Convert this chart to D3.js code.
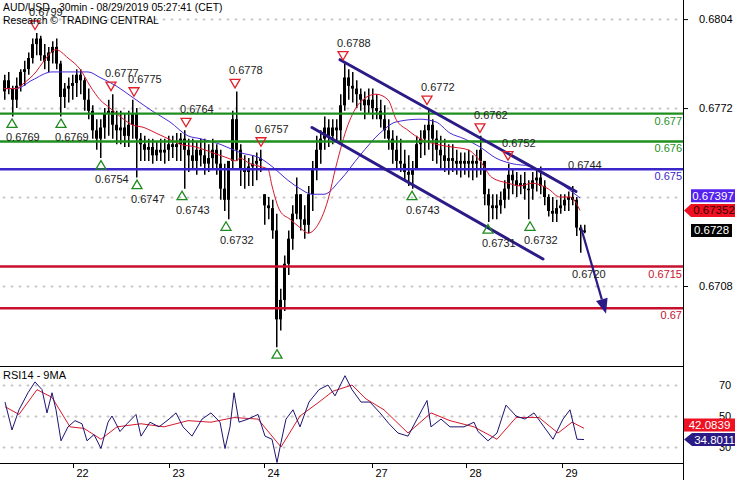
<!DOCTYPE html>
<html><head><meta charset="utf-8">
<script src="https://cdn.jsdelivr.net/npm/d3@7"></script>
<style>body{margin:0;background:#fff}svg{display:block;font-family:"Liberation Sans",Arial,sans-serif}</style>
</head><body><svg id="c" width="735" height="480"></svg>
<script>
// ---------- DATA ----------
const firstOpen = 0.6778;
const highs = [
.6784,.6785,.6780,.6783,.6786,.6789,.6792,.6797,.6799,.6798,
.6795,.6794,.6796,.6797,.6789,.6781,.6783,.6784,.6786,.6786,
.6783,.6779,.6773,.6768,.6768,.6772,.6775,.6777,.6771,.6771,
.6770,.6771,.6775,.6772,.6763,.6762,.6761,.6761,.6760,.6761,
.6761,.6762,.6762,.6763,.6763,.6764,.6761,.6761,.6760,.6761,
.6761,.6759,.6761,.6759,.6757,.6752,.6748,.6771,.6778,.6759,
.6755,.6754,.6755,.6756,.6757,.6741,.6740,.6739,.6734,.6707,
.6719,.6728,.6737,.6747,.6741,.6737,.6744,.6753,.6762,.6764,
.6769,.6768,.6768,.6768,.6777,.6788,.6786,.6785,.6782,.6779,
.6778,.6779,.6779,.6777,.6775,.6773,.6768,.6764,.6762,.6761,
.6757,.6755,.6753,.6762,.6764,.6766,.6772,.6768,.6764,.6762,
.6761,.6759,.6759,.6757,.6756,.6756,.6757,.6755,.6757,.6762,
.6753,.6743,.6741,.6741,.6742,.6746,.6752,.6750,.6749,.6748,
.6749,.6746,.6749,.6750,.6751,.6746,.6741,.6740,.6739,.6741,
.6741,.6742,.6744,.6740,.6730,.6730];
const lows = [
.6775,.6777,.6769,.6772,.6778,.6780,.6784,.6788,.6791,.6789,
.6786,.6785,.6788,.6786,.6769,.6772,.6774,.6775,.6776,.6777,
.6771,.6768,.6761,.6757,.6754,.6761,.6762,.6761,.6759,.6759,
.6758,.6758,.6761,.6747,.6753,.6753,.6753,.6752,.6753,.6753,
.6752,.6753,.6754,.6753,.6753,.6743,.6749,.6750,.6748,.6751,
.6748,.6749,.6750,.6748,.6739,.6735,.6732,.6750,.6753,.6744,
.6743,.6744,.6744,.6746,.6749,.6730,.6732,.6725,.6686,.6692,
.6699,.6712,.6721,.6732,.6728,.6725,.6727,.6735,.6746,.6752,
.6757,.6758,.6759,.6760,.6759,.6771,.6775,.6774,.6772,.6771,
.6768,.6770,.6768,.6768,.6765,.6761,.6757,.6752,.6750,.6749,
.6746,.6744,.6743,.6750,.6754,.6755,.6757,.6753,.6752,.6750,
.6749,.6748,.6749,.6748,.6747,.6748,.6747,.6746,.6747,.6748,
.6737,.6731,.6732,.6732,.6734,.6736,.6739,.6741,.6740,.6741,
.6739,.6732,.6739,.6742,.6741,.6737,.6733,.6731,.6731,.6734,
.6735,.6735,.6737,.6726,.6720,.6727];
const closes = [
.6782,.6779,.6775,.6780,.6785,.6786,.6790,.6795,.6797,.6791,
.6789,.6792,.6794,.6788,.6776,.6779,.6780,.6781,.6784,.6782,
.6775,.6771,.6764,.6761,.6765,.6770,.6771,.6766,.6764,.6765,
.6762,.6766,.6770,.6761,.6759,.6757,.6758,.6755,.6757,.6756,
.6757,.6759,.6758,.6759,.6761,.6757,.6755,.6753,.6757,.6755,
.6752,.6754,.6757,.6752,.6743,.6739,.6753,.6768,.6757,.6750,
.6749,.6751,.6752,.6753,.6754,.6737,.6736,.6728,.6696,.6703,
.6716,.6725,.6734,.6741,.6732,.6730,.6741,.6750,.6757,.6761,
.6765,.6762,.6765,.6764,.6773,.6783,.6780,.6779,.6777,.6775,
.6773,.6775,.6772,.6771,.6768,.6764,.6761,.6757,.6753,.6752,
.6749,.6748,.6750,.6759,.6761,.6764,.6766,.6761,.6757,.6755,
.6753,.6754,.6753,.6752,.6753,.6752,.6753,.6752,.6753,.6757,
.6741,.6737,.6736,.6737,.6739,.6743,.6748,.6746,.6744,.6745,
.6743,.6743,.6746,.6747,.6744,.6740,.6735,.6734,.6736,.6737,
.6739,.6740,.6739,.6729,.6728,.6728];

// moving averages: [bar index, price]
const maFast = [[0,.6779],[3,.6779],[5,.6781],[8,.6785],[10,.6789],[13,.6793],[16,.6790],[19,.6786],[21.5,.6780],[24,.6775],[26.5,.6772],[29,.6769],[32,.6766],[35,.6765],[38,.6763],[41,.6761],[44,.6759],[48,.6758],[52,.6756],[56,.6754],[58,.6753],[59,.6754],[61.5,.6752],[64,.6751],[66,.6750],[67,.6744],[69,.6735],[71.5,.6732],[74,.6729],[76,.6727],[78,.6729],[81,.6739],[83,.6751],[86,.6766],[89,.6774],[93,.6777],[96,.6775],[98,.6768],[101,.6764],[104,.6761],[108,.6759],[112,.6758],[116,.6757],[119,.6753],[122,.6747],[126,.6745],[129,.6744],[132,.6745],[136,.6743],[139,.6740],[141.5,.6740],[144,.67352]];
const maSlow = [[0,.6779],[3,.6779],[7,.6782],[12,.6785],[17,.6785],[21,.6785],[24,.6783],[28,.6780],[32,.6776],[37,.6771],[41.5,.6767],[46,.6762],[49,.6761],[54,.6759],[59,.6756],[64,.6754],[67,.6751],[71,.6746],[74,.6743],[77,.6741],[80,.6741],[84,.6746],[89,.6755],[94,.6763],[98,.6767],[104,.6768],[108,.6767],[111.5,.6763],[115,.6761],[119,.6758],[123,.6754],[127,.6752],[131.5,.6751],[136,.6748],[140,.6744],[144,.67397]];

// RSI(14) and its 9-period MA: [bar index, value]
const rsi = [[0.25,59],[2,41],[3.75,54],[6,65],[7.75,72],[9.5,67],[10.75,52],[12,65],[13,54],[14.25,34],[16,43],[17.75,47],[19.5,45],[20.75,34],[22.5,38],[24.25,29],[26,46],[27,50],[29,40],[30.75,45],[33,51],[34.25,37],[36.5,46],[38.75,43],[41.25,48],[43,52],[44.75,43],[47,37],[49.5,48],[51.75,52],[54,46],[55.25,29],[56.5,43],[57.5,65],[58.75,46],[61,48],[63.5,51],[65.25,37],[67,35],[68.25,20],[69.25,33],[70.5,48],[72.25,54],[74,43],[76.25,59],[78.75,67],[81,70],[82.75,63],[85.25,76],[87,67],[89.25,59],[91.5,59],[94,52],[96.25,45],[98.5,39],[101,37],[103.25,48],[105.75,60],[106.75,43],[109.25,48],[111.5,43],[115,43],[117.5,46],[118.5,40],[121,34],[123.25,39],[125.5,57],[128,50],[130.25,48],[132.5,52],[135,43],[137.25,35],[139.75,48],[141.5,54],[143.25,35],[145,34.8011]];
const rsiMA = [[0.25,56],[3.75,51],[8.25,67],[12,62],[16.5,43],[20,42],[24.25,35],[28.25,43],[34.25,45],[40,43],[46,47],[51.75,46],[57.5,49],[63.5,48],[69.25,30],[74,50],[78.75,59],[82.25,66],[87,70],[90.5,61],[95,54],[101,39],[106.75,52],[111.5,47],[117.5,43],[123.25,35],[128,49],[133.75,49],[138.5,39],[142,46],[145,42.0839]];

// price annotations: [bar index, price]
const lowPivots = [[2,.6769],[14.25,.6769],[24.25,.6754],[33.25,.6747],[44.5,.6743],[55.5,.6732],[68.25,.6686],[102,.6743],[121,.6731],[131.5,.6732]];
const highPivots = [[7.75,.6799],[26.75,.6777],[32.5,.6775],[45.5,.6764],[57.75,.6778],[64.25,.6757],[84.75,.6788],[105.75,.6772],[119,.6762],[126,.6752]];
const pendingHigh = [[142.5,.6744]];
const pendingLow = [[143.5,.6720]];
const levels = [
  {p:.6770, label:"0.677", color:"#1f8f1f"},
  {p:.6760, label:"0.676", color:"#1f8f1f"},
  {p:.6750, label:"0.675", color:"#3b26cc"},
  {p:.6715, label:"0.6715", color:"#c8102e"},
  {p:.6700, label:"0.67", color:"#c8102e"}];
const channelUpper = [[84,.67894],[143,.6742]];
const channelLower = [[77,.6765],[134.75,.67177]];
const forecastArrow = [[144.25,.6729],[150.5,.6698]];
const priceGrid = [0.6708,0.6740,0.6772,0.6804];
const priceTicks = [0.6708,0.6772,0.6804];
const rsiTicks = [30,50,70];
const dayTickIdx = [17.25,41.25,65,92,115.5,139.5];
const dayLabels = ["22","23","24","27","28","29"];
const lastClose = 0.6728, lastFast = 0.67352, lastSlow = 0.67397;
const lastRsi = 34.8011, lastRsiMA = 42.0839;

// ---------- CHART ----------
const svg = d3.select("#c");
const AX = 683, MAIN_B = 366, RSI_B = 463;
const x = d3.scaleLinear().domain([0,170]).range([4,684]);
const y = d3.scaleLinear().domain([0.6708,0.6804]).range([286,19.1]);
const ry = d3.scaleLinear().domain([30,70]).range([447,385]);
const NAVY = "#2b1b86";

const defs = svg.append("defs");
defs.append("clipPath").attr("id","cm").append("rect").attr("x",0).attr("y",0).attr("width",AX).attr("height",MAIN_B);
defs.append("clipPath").attr("id","cr").append("rect").attr("x",0).attr("y",MAIN_B).attr("width",AX).attr("height",RSI_B-MAIN_B);

function crossGrid(g, yy){
  yy = Math.round(yy)+0.5; let d="";
  for(let xx=4; xx<AX-2; xx+=8){ d+=`M${xx-1.5},${yy}h3M${xx},${yy-1.5}v3`; }
  g.append("path").attr("d",d).attr("stroke","#c8c8c8").attr("stroke-width",1).attr("fill","none");
}

const main = svg.append("g").attr("clip-path","url(#cm)");
priceGrid.forEach(p=>crossGrid(main, y(p)));

// candles
const bars = highs.map((h,i)=>{
  const l=lows[i], c=closes[i];
  const o = i===0 ? firstOpen : Math.min(h, Math.max(l, closes[i-1]));
  return {i,h,l,o,c};
});
const cg = main.append("g");
cg.selectAll("line.w").data(bars).join("line")
  .attr("x1",d=>Math.round(x(d.i))+0.75).attr("x2",d=>Math.round(x(d.i))+0.75)
  .attr("y1",d=>y(d.h)).attr("y2",d=>y(d.l)).attr("stroke","#000").attr("stroke-width",1.5);
cg.selectAll("rect").data(bars).join("rect")
  .attr("x",d=>Math.round(x(d.i))-1).attr("width",3)
  .attr("y",d=>y(Math.max(d.o,d.c))).attr("height",d=>Math.max(1.5,Math.abs(y(d.o)-y(d.c))))
  .attr("fill","#000");

// moving averages
const ln = d3.line().x(d=>x(d[0])).y(d=>y(d[1])).curve(d3.curveMonotoneX);
main.append("path").attr("d",ln(maSlow)).attr("fill","none").attr("stroke","#4a2ad6").attr("stroke-width",1);
main.append("path").attr("d",ln(maFast)).attr("fill","none").attr("stroke","#d8182c").attr("stroke-width",1);

// horizontal levels
levels.forEach(L=>{
  const yy=y(L.p);
  main.append("line").attr("x1",0).attr("x2",AX).attr("y1",yy).attr("y2",yy).attr("stroke",L.color).attr("stroke-width",2.4);
  main.append("text").attr("x",AX-1).attr("y",yy+11).attr("text-anchor","end").attr("font-size",11).attr("fill",L.color).text(L.label);
});

// channel
const sl = d3.line().x(d=>x(d[0])).y(d=>y(d[1]));
[channelUpper, channelLower].forEach(c=>main.append("path").attr("d",sl(c)).attr("stroke",NAVY).attr("stroke-width",3).attr("fill","none").attr("stroke-linecap","round"));

// forecast arrow
{
  const [a,b]=forecastArrow; const x1=x(a[0]),y1=y(a[1]),x2=x(b[0]),y2=y(b[1]);
  const ang=Math.atan2(y2-y1,x2-x1), L=15, Wd=6;
  const bx=x2-L*Math.cos(ang), by=y2-L*Math.sin(ang);
  main.append("line").attr("x1",x1).attr("y1",y1).attr("x2",bx).attr("y2",by).attr("stroke",NAVY).attr("stroke-width",2.2);
  main.append("path").attr("d",`M${x2},${y2}L${bx+Wd*Math.sin(ang)},${by-Wd*Math.cos(ang)}L${bx-Wd*Math.sin(ang)},${by+Wd*Math.cos(ang)}Z`).attr("fill",NAVY);
}

// pivots
const fmt4 = d3.format(".4f");
lowPivots.forEach(([i,p])=>{
  const cx=x(i), cy=y(p)+7;
  main.append("path").attr("d",`M${cx},${cy-4.5}L${cx+5},${cy+4}L${cx-5},${cy+4}Z`).attr("fill","none").attr("stroke","#1f8a1f").attr("stroke-width",1.3);
  if (cy+18 < MAIN_B-2) main.append("text").attr("x",cx-6).attr("y",cy+18).attr("font-size",11).attr("fill","#222").text(fmt4(p));
});
highPivots.forEach(([i,p])=>{
  const cx=x(i), cy=y(p)-8;
  main.append("path").attr("d",`M${cx-5},${cy-4}L${cx+5},${cy-4}L${cx},${cy+4.5}Z`).attr("fill","none").attr("stroke","#e0202a").attr("stroke-width",1.3);
  main.append("text").attr("x",cx-6).attr("y",Math.max(10,cy-9)).attr("font-size",11).attr("fill","#222").text(fmt4(p));
});
pendingHigh.forEach(([i,p])=>main.append("text").attr("x",x(i)-6).attr("y",y(p)-17).attr("font-size",11).attr("fill","#222").text(fmt4(p)));
pendingLow.forEach(([i,p])=>main.append("text").attr("x",x(i)-6).attr("y",y(p)+25).attr("font-size",11).attr("fill","#222").text(fmt4(p)));

// header
svg.append("text").attr("x",3).attr("y",11).attr("font-size",10.4).attr("fill","#000").text("AUD/USD - 30min - 08/29/2019 05:27:41 (CET)");
svg.append("text").attr("x",3).attr("y",24).attr("font-size",10.4).attr("fill","#000").text("Research © TRADING CENTRAL");

// right price axis
const pa = svg.append("g").attr("transform",`translate(${AX},0)`)
  .call(d3.axisRight(y).tickValues(priceTicks).tickFormat(fmt4).tickSize(5).tickPadding(11));
pa.select(".domain").remove();
pa.selectAll("text").attr("font-size",11).attr("font-family","Liberation Sans, Arial, sans-serif").attr("fill","#000");

// value boxes
function box(yc, txt, bg, fg, pointer, x0=691, x1=735){
  const h=13, t=yc-h/2;
  const d = pointer ? `M${AX+1},${yc}L${x0},${t}H${x1}V${t+h}H${x0}Z` : `M${x0},${t}H${x1}V${t+h}H${x0}Z`;
  svg.append("path").attr("d",d).attr("fill",bg);
  svg.append("text").attr("x",x0+(x1-x0)/2+ (pointer?1:0)).attr("y",yc+4).attr("text-anchor","middle").attr("font-size",11.5).attr("fill",fg).text(txt);
}
box(y(lastSlow)-2, "0.67397", "#5522ee", "#fff", false);
box(y(lastFast), "0.67352", "#ee1122", "#3a0000", true);
box(y(lastClose), "0.6728", "#000", "#fff", false, 691, 732);

// RSI panel
const rp = svg.append("g").attr("clip-path","url(#cr)");
rsiTicks.forEach(v=>crossGrid(rp, ry(v)));
const rl = d3.line().x(d=>x(d[0])).y(d=>ry(d[1]));
rp.append("path").attr("d",rl(rsiMA)).attr("fill","none").attr("stroke","#d8182c").attr("stroke-width",1);
rp.append("path").attr("d",rl(rsi)).attr("fill","none").attr("stroke","#1c1470").attr("stroke-width",1);
svg.append("text").attr("x",3).attr("y",379).attr("font-size",11).attr("fill","#000").text("RSI14 - 9MA");

const ra = svg.append("g").attr("transform",`translate(${AX},0)`)
  .call(d3.axisRight(ry).tickValues(rsiTicks).tickSize(0).tickPadding(36));
ra.select(".domain").remove();
ra.selectAll("text").attr("font-size",11).attr("font-family","Liberation Sans, Arial, sans-serif").attr("fill","#000");

let yMA = ry(lastRsiMA), yR = ry(lastRsi);
if (yR - yMA < 14.5) yMA = yR - 14.5;
box(yMA, d3.format(".4f")(lastRsiMA), "#ee1122", "#fff", false, 684, 735);
box(yR, d3.format(".4f")(lastRsi), "#2b1b86", "#fff", true, 692, 735);

// frame lines
svg.append("line").attr("x1",AX+0.5).attr("x2",AX+0.5).attr("y1",0).attr("y2",480).attr("stroke","#000");
svg.append("line").attr("x1",0).attr("x2",AX).attr("y1",MAIN_B+0.5).attr("y2",MAIN_B+0.5).attr("stroke","#000");
svg.append("line").attr("x1",0).attr("x2",AX).attr("y1",RSI_B+0.5).attr("y2",RSI_B+0.5).attr("stroke","#000");

// day axis
const da = svg.append("g").attr("transform",`translate(0,${RSI_B})`)
  .call(d3.axisBottom(x).tickValues(dayTickIdx).tickFormat((d,i)=>dayLabels[i]).tickSize(5).tickPadding(1));
da.select(".domain").remove();
da.selectAll("text").attr("font-size",11).attr("font-family","Liberation Sans, Arial, sans-serif").attr("fill","#000").attr("text-anchor","start").attr("dx",3);
</script></body></html>
